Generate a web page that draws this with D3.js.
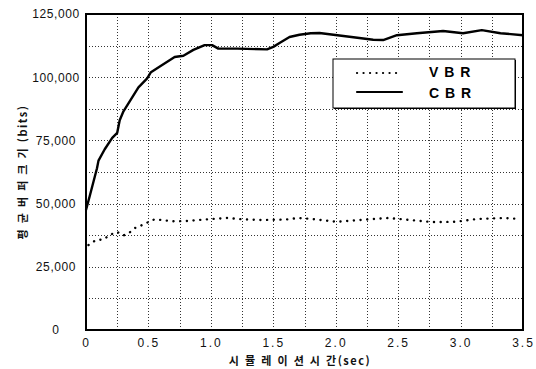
<!DOCTYPE html>
<html lang="ko">
<head>
<meta charset="UTF-8">
<title>평균 버퍼 크기</title>
<style>
  body { margin: 0; background: #fff; }
  svg { display: block; }
  .tick text { font-family: "Liberation Sans", Arial, sans-serif; font-size: 12px; fill: #111; }
  .title { font-family: "Noto Sans CJK KR", sans-serif; font-weight: 700; font-size: 11px; fill: #111; }
</style>
</head>
<body>
<svg id="chart" width="536" height="369"></svg>
<script src="https://d3js.org/d3.v7.min.js"></script>
<script>
// data
const cbrTime  = [0, 0.03, 0.088, 0.10, 0.15, 0.21, 0.25, 0.27, 0.30, 0.37, 0.42, 0.49, 0.52, 0.61, 0.71, 0.78, 0.86, 0.95, 1.01, 1.06, 1.21, 1.45, 1.50, 1.55, 1.63, 1.71, 1.80, 1.87, 2.11, 2.30, 2.38, 2.49, 2.65, 2.86, 3.02, 3.17, 3.32, 3.5];
const cbrValue = [47500, 53000, 64000, 67000, 71500, 76000, 78000, 83000, 86500, 92000, 96000, 99500, 102000, 104800, 108000, 108500, 110800, 112700, 112700, 111300, 111300, 111000, 112000, 113500, 115900, 116800, 117400, 117500, 116000, 114800, 114700, 116600, 117400, 118300, 117400, 118600, 117400, 116600];
const vbrTime  = [0.02, 0.08, 0.14, 0.19, 0.25, 0.30, 0.35, 0.39, 0.45, 0.50, 0.55, 0.70, 0.80, 1.00, 1.13, 1.25, 1.40, 1.60, 1.70, 1.81, 2.01, 2.25, 2.42, 2.77, 2.96, 3.13, 3.34, 3.48];
const vbrValue = [33600, 35600, 35800, 37600, 38800, 37400, 38600, 40300, 41500, 42700, 43800, 43000, 43100, 43900, 44300, 43800, 43500, 43700, 44300, 43900, 42800, 43700, 44300, 42700, 42800, 43900, 44300, 43900];
const xTicks = [0, 0.5, 1.0, 1.5, 2.0, 2.5, 3.0, 3.5];
const yTicks = [0, 25000, 50000, 75000, 100000, 125000];
const legendNames = ["V B R", "C B R"];

const svg = d3.select("#chart");
const mLeft = 86, mRight = 523, mTop = 14, mBottom = 330;

const x = d3.scaleLinear().domain([0, 3.5]).range([mLeft, mRight]);
const y = d3.scaleLinear().domain([0, 125000]).range([mBottom, mTop]);

// grid
const grid = svg.append("g").attr("stroke", "#333").attr("stroke-width", 1)
  .attr("stroke-dasharray", "1 2");
grid.selectAll("line.h").data(d3.range(12500, 125000, 12500)).join("line")
  .attr("x1", mLeft).attr("x2", mRight)
  .attr("y1", d => Math.round(y(d)) + 0.5).attr("y2", d => Math.round(y(d)) + 0.5);
grid.selectAll("line.v").data(d3.range(0.25, 3.5, 0.25)).join("line")
  .attr("y1", mTop).attr("y2", mBottom)
  .attr("x1", d => Math.round(x(d)) + 0.5).attr("x2", d => Math.round(x(d)) + 0.5);

// axes - y labels are centred in a column left of the frame
const yAxis = d3.axisLeft(y).tickValues(yTicks).tickSize(0).tickPadding(30)
  .tickFormat(d3.format(","));
svg.append("g").attr("transform", `translate(${mLeft},0)`).call(yAxis)
  .call(g => g.select(".domain").remove())
  .call(g => g.selectAll(".tick text").attr("text-anchor", "middle")
    .attr("letter-spacing", 0.6));

const xAxis = d3.axisBottom(x).tickValues(xTicks).tickSize(0).tickPadding(8)
  .tickFormat(d => d === 0 ? "0" : d3.format(".1f")(d));
svg.append("g").attr("transform", `translate(0,${mBottom})`).call(xAxis)
  .call(g => g.select(".domain").remove())
  .call(g => g.selectAll(".tick text").attr("letter-spacing", 2));

// lines
const line = d3.line().x(d => x(d[0])).y(d => y(d[1])).curve(d3.curveLinear);
svg.append("path")
  .datum(d3.zip(cbrTime, cbrValue))
  .attr("d", line)
  .attr("fill", "none").attr("stroke", "#000").attr("stroke-width", 2.4)
  .attr("stroke-linejoin", "round");

svg.append("path")
  .datum(d3.zip(vbrTime, vbrValue))
  .attr("d", line)
  .attr("fill", "none").attr("stroke", "#000").attr("stroke-width", 2.4)
  .attr("stroke-linecap", "round").attr("stroke-dasharray", "0.1 6.6");

// frame
svg.append("rect").attr("x", mLeft).attr("y", mTop)
  .attr("width", mRight - mLeft).attr("height", mBottom - mTop)
  .attr("fill", "none").attr("stroke", "#000").attr("stroke-width", 2);

// legend
const lg = svg.append("g").attr("transform", "translate(333,59)");
lg.append("rect").attr("x", 1).attr("y", 1).attr("width", 182).attr("height", 49)
  .attr("fill", "#000");
lg.append("rect").attr("width", 182).attr("height", 49)
  .attr("fill", "#fff").attr("stroke", "#000").attr("stroke-width", 1);
lg.selectAll("line.item").data(legendNames).join("line")
  .attr("x1", 24).attr("x2", 69)
  .attr("y1", (d, i) => 14 + i * 19).attr("y2", (d, i) => 14 + i * 19)
  .attr("stroke", "#000").attr("stroke-width", 2.2)
  .attr("stroke-linecap", "round")
  .attr("stroke-dasharray", (d, i) => i === 0 ? "0.1 6.4" : null);
lg.selectAll("text").data(legendNames).join("text")
  .attr("x", 96).attr("y", (d, i) => 18 + i * 21)
  .attr("font-family", "Liberation Sans, Arial, sans-serif")
  .attr("font-weight", 700).attr("font-size", 14)
  .attr("letter-spacing", 1)
  .text(d => d);

// titles
svg.append("text").attr("class", "title")
  .attr("x", 300).attr("y", 365).attr("text-anchor", "middle")
  .attr("letter-spacing", 1.5)
  .text("시 뮬 레 이 션 시 간(sec)");
svg.append("text").attr("class", "title")
  .attr("transform", "translate(27,172) rotate(-90)")
  .attr("text-anchor", "middle").attr("letter-spacing", 1.5)
  .text("평 균 버 퍼 크 기 (bits)");
</script>
</body>
</html>
